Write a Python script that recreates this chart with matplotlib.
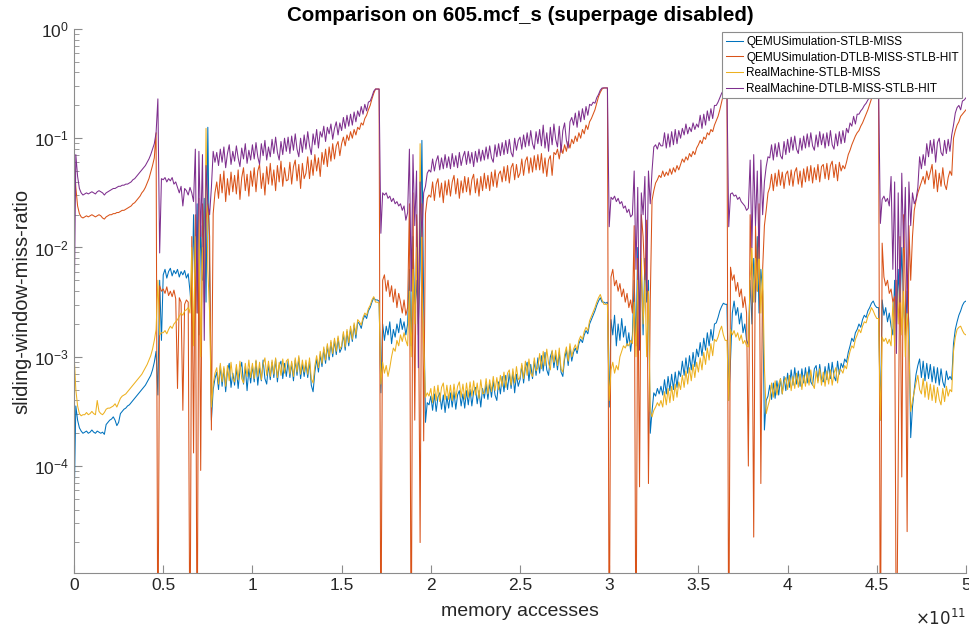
import numpy as np
import matplotlib
matplotlib.use('Agg')
import matplotlib.pyplot as plt
from matplotlib.ticker import FuncFormatter, LogLocator, NullFormatter

plt.rcParams['font.family'] = ['Liberation Sans', 'DejaVu Sans']

# eje x: accesos a memoria en unidades de 1e11, una muestra cada 0.01
x = np.arange(501) * 0.01

# valores, en log10 (una fila = 0.1e11 accesos)
qemu_stlb = [
    -4.40, -3.45, -3.58, -3.65, -3.68, -3.70, -3.69, -3.68, -3.70, -3.69,
    -3.67, -3.69, -3.70, -3.68, -3.69, -3.70, -3.69, -3.71, -3.62, -3.60,
    -3.58, -3.57, -3.55, -3.58, -3.63, -3.60, -3.52, -3.50, -3.48, -3.47,
    -3.45, -3.44, -3.42, -3.40, -3.38, -3.36, -3.34, -3.32, -3.30, -3.28,
    -3.26, -3.23, -3.20, -3.17, -3.12, -3.05, -2.95, -3.35, -2.30, -2.85,
    -2.25, -2.20, -2.28, -2.22, -2.19, -2.26, -2.21, -2.24, -2.20, -2.27,
    -2.22, -2.25, -2.21, -2.28, -2.24, -2.40, -2.60, -1.70, -2.50, -1.60,
    -2.80, -1.80, -2.30, -1.55, -2.50, -0.90, -2.20, -3.58, -3.30, -3.20,
    -3.14, -3.30, -3.08, -3.27, -3.11, -3.32, -3.13, -3.06, -3.28, -3.15,
    -3.26, -3.10, -3.29, -3.12, -3.05, -3.25, -3.09, -3.31, -3.11, -3.24,
    -3.08, -3.23, -3.04, -3.26, -3.10, -3.22, -3.03, -3.20, -3.25, -3.07,
    -3.21, -3.05, -3.19, -3.02, -3.23, -3.08, -3.04, -3.20, -3.06, -3.18,
    -3.04, -3.19, -3.06, -3.22, -3.03, -3.17, -3.01, -3.20, -3.07, -3.18,
    -3.06, -3.19, -3.04, -3.26, -3.32, -3.14, -3.02, -3.14, -2.98, -3.09,
    -2.93, -3.06, -2.90, -3.03, -2.87, -3.00, -2.85, -2.98, -2.83, -2.96,
    -2.92, -2.79, -2.94, -2.77, -2.90, -2.74, -2.86, -2.71, -2.83, -2.68,
    -2.70, -2.74, -2.66, -2.62, -2.65, -2.58, -2.55, -2.50, -2.46, -2.48,
    -2.48, -2.49, -3.33, -2.70, -2.85, -2.72, -2.80, -2.68, -2.88, -2.75,
    -2.82, -2.70, -2.78, -2.65, -2.75, -2.68, -2.80, -2.70, -2.20, -2.90,
    -1.90, -2.60, -2.30, -2.70, -2.20, -1.02, -2.50, -3.60, -3.42, -3.44,
    -3.36, -3.49, -3.34, -3.50, -3.37, -3.33, -3.48, -3.35, -3.51, -3.36,
    -3.47, -3.33, -3.46, -3.32, -3.48, -3.35, -3.31, -3.45, -3.34, -3.47,
    -3.31, -3.44, -3.30, -3.45, -3.32, -3.28, -3.43, -3.31, -3.46, -3.29,
    -3.38, -3.25, -3.39, -3.24, -3.37, -3.22, -3.35, -3.40, -3.23, -3.34,
    -3.18, -3.32, -3.17, -3.30, -3.15, -3.29, -3.14, -3.33, -3.16, -3.27,
    -3.21, -3.08, -3.24, -3.10, -3.05, -3.22, -3.07, -3.20, -3.04, -3.17,
    -3.01, -3.15, -2.99, -3.13, -2.96, -3.12, -3.17, -3.00, -2.95, -3.10,
    -2.98, -3.12, -2.96, -3.14, -3.18, -3.02, -2.94, -3.08, -2.91, -3.04,
    -2.96, -2.92, -2.97, -2.88, -2.84, -2.87, -2.80, -2.76, -2.79, -2.70,
    -2.66, -2.62, -2.58, -2.53, -2.49, -2.46, -2.50, -2.50, -2.51, -2.50,
    -3.46, -2.66, -2.80, -2.62, -2.90, -2.70, -2.85, -2.65, -2.82, -2.72,
    -2.90, -2.78, -2.95, -2.80, -2.30, -2.90, -2.00, -2.60, -2.20, -2.80,
    -2.10, -2.50, -2.30, -3.70, -3.50, -3.33, -3.36, -3.29, -3.34, -3.27,
    -3.35, -3.21, -3.34, -3.18, -3.31, -3.16, -3.30, -3.14, -3.28, -3.13,
    -3.18, -3.04, -3.17, -3.01, -3.15, -2.99, -3.12, -2.96, -3.09, -2.93,
    -3.00, -2.87, -2.99, -2.83, -2.94, -2.78, -2.90, -2.75, -2.85, -2.70,
    -2.69, -2.64, -2.58, -2.54, -2.51, -2.52, -2.52, -3.40, -3.03, -2.60,
    -2.49, -2.62, -2.55, -2.70, -2.60, -2.78, -2.70, -2.85, -2.89, -2.30,
    -2.70, -2.10, -2.50, -1.90, -2.60, -2.20, -2.40, -3.67, -3.40, -3.36,
    -3.26, -3.39, -3.24, -3.38, -3.22, -3.35, -3.20, -3.34, -3.18, -3.31,
    -3.15, -3.28, -3.12, -3.26, -3.10, -3.25, -3.13, -3.27, -3.11, -3.24,
    -3.10, -3.24, -3.09, -3.23, -3.26, -3.11, -3.08, -3.22, -3.07, -3.21,
    -3.23, -3.09, -3.21, -3.06, -3.20, -3.05, -3.18, -3.22, -3.04, -3.16,
    -3.06, -3.10, -3.02, -3.05, -2.96, -2.90, -2.83, -2.86, -2.78, -2.75,
    -2.70, -2.73, -2.66, -2.62, -2.64, -2.58, -2.55, -2.51, -2.49, -2.53,
    -2.55, -2.55, -3.58, -2.48, -2.62, -2.55, -2.68, -2.60, -2.72, -2.80,
    -2.30, -2.70, -2.20, -2.60, -2.00, -2.50, -2.80, -2.40, -2.70, -3.74,
    -3.46, -3.30, -3.16, -3.08, -3.02, -3.19, -3.04, -3.22, -3.06, -3.20,
    -3.07, -3.23, -3.09, -3.24, -3.10, -3.26, -3.11, -3.23, -3.28, -3.13,
    -3.21, -3.18, -3.21, -2.88, -2.75, -2.68, -2.62, -2.58, -2.53, -2.50,
    -2.49]

qemu_dtlb_stlb_hit = [
    -1.18, -1.45, -1.62, -1.69, -1.72, -1.73, -1.72, -1.71, -1.72, -1.71,
    -1.70, -1.71, -1.72, -1.71, -1.70, -1.71, -1.73, -1.74, -1.72, -1.71,
    -1.70, -1.70, -1.69, -1.69, -1.68, -1.68, -1.67, -1.66, -1.66, -1.65,
    -1.64, -1.63, -1.62, -1.60, -1.59, -1.57, -1.55, -1.53, -1.50, -1.48,
    -1.45, -1.41, -1.37, -1.31, -1.25, -1.18, -0.95, -6.00, -2.35, -2.40,
    -2.38, -2.42, -2.36, -2.44, -2.40, -2.45, -2.39, -2.47, -3.29, -2.46,
    -2.50, -3.49, -2.52, -2.48, -2.50, -6.00, -1.90, -3.88, -1.70, -6.00,
    -1.55, -4.04, -1.60, -2.20, -1.75, -1.60, -1.90, -3.67, -1.69, -1.50,
    -1.40, -1.55, -1.33, -1.50, -1.30, -1.58, -1.37, -1.52, -1.31, -1.49,
    -1.34, -1.51, -1.29, -1.56, -1.36, -1.27, -1.48, -1.33, -1.53, -1.30,
    -1.44, -1.27, -1.49, -1.30, -1.24, -1.46, -1.32, -1.52, -1.26, -1.42,
    -1.23, -1.43, -1.29, -1.48, -1.25, -1.40, -1.21, -1.44, -1.27, -1.39,
    -1.38, -1.22, -1.42, -1.26, -1.20, -1.39, -1.24, -1.46, -1.23, -1.37,
    -1.32, -1.17, -1.37, -1.20, -1.34, -1.15, -1.30, -1.18, -1.35, -1.13,
    -1.24, -1.10, -1.26, -1.08, -1.21, -1.05, -1.19, -1.07, -1.03, -1.16,
    -1.05, -0.99, -1.07, -0.97, -1.02, -0.94, -1.00, -0.92, -0.97, -0.90,
    -0.92, -0.86, -0.88, -0.82, -0.79, -0.74, -0.70, -0.64, -0.59, -0.55,
    -0.55, -0.55, -6.00, -2.30, -2.25, -2.40, -2.30, -2.45, -2.35, -2.50,
    -2.38, -2.55, -2.42, -2.50, -2.60, -2.48, -2.62, -2.55, -1.60, -6.00,
    -1.50, -3.58, -1.70, -2.30, -4.70, -1.60, -3.77, -1.69, -1.55, -1.52,
    -1.54, -1.40, -1.57, -1.42, -1.37, -1.54, -1.41, -1.59, -1.39, -1.52,
    -1.38, -1.53, -1.40, -1.34, -1.51, -1.37, -1.55, -1.39, -1.50, -1.35,
    -1.49, -1.36, -1.52, -1.38, -1.33, -1.50, -1.37, -1.53, -1.35, -1.48,
    -1.32, -1.46, -1.34, -1.48, -1.31, -1.44, -1.29, -1.45, -1.33, -1.30,
    -1.40, -1.26, -1.39, -1.25, -1.41, -1.27, -1.23, -1.38, -1.24, -1.36,
    -1.32, -1.19, -1.34, -1.21, -1.17, -1.32, -1.18, -1.31, -1.16, -1.29,
    -1.15, -1.29, -1.14, -1.32, -1.18, -1.35, -1.20, -1.16, -1.34, -1.13,
    -1.15, -1.10, -1.19, -1.08, -1.14, -1.06, -1.12, -1.03, -1.09, -1.01,
    -1.05, -0.98, -1.03, -0.95, -1.00, -0.92, -0.96, -0.88, -0.92, -0.85,
    -0.82, -0.78, -0.74, -0.68, -0.62, -0.58, -0.55, -0.54, -0.54, -0.54,
    -6.00, -2.27, -2.20, -2.35, -2.30, -2.40, -2.33, -2.45, -2.38, -2.50,
    -2.42, -2.55, -2.48, -2.60, -1.80, -6.00, -2.10, -4.19, -1.70, -1.90,
    -2.30, -1.75, -4.16, -2.50, -1.57, -1.48, -1.41, -1.38, -1.34, -1.36,
    -1.30, -1.35, -1.31, -1.34, -1.28, -1.33, -1.27, -1.31, -1.25, -1.29,
    -1.24, -1.19, -1.22, -1.17, -1.20, -1.14, -1.17, -1.12, -1.15, -1.09,
    -1.06, -1.02, -1.05, -0.99, -1.01, -0.95, -0.97, -0.92, -0.94, -0.88,
    -0.84, -0.80, -0.74, -0.67, -0.60, -0.55, -0.55, -6.00, -2.18, -2.30,
    -2.25, -2.40, -2.32, -2.45, -2.38, -2.55, -2.45, -2.60, -4.00, -1.70,
    -2.30, -4.65, -1.80, -2.40, -1.60, -4.16, -2.20, -1.80, -1.66, -1.50,
    -1.45, -1.33, -1.48, -1.32, -1.44, -1.29, -1.43, -1.31, -1.46, -1.33,
    -1.30, -1.43, -1.29, -1.44, -1.31, -1.27, -1.42, -1.30, -1.45, -1.28,
    -1.40, -1.26, -1.39, -1.25, -1.41, -1.27, -1.38, -1.24, -1.40, -1.26,
    -1.24, -1.37, -1.23, -1.38, -1.25, -1.21, -1.36, -1.24, -1.39, -1.22,
    -1.30, -1.25, -1.28, -1.22, -1.15, -1.11, -1.06, -1.02, -0.98, -0.95,
    -0.93, -0.89, -0.86, -0.82, -0.78, -0.74, -0.69, -0.64, -0.59, -0.55,
    -0.55, -0.55, -6.00, -1.96, -2.27, -2.35, -2.30, -2.42, -2.38, -2.50,
    -2.45, -6.00, -4.00, -1.90, -4.10, -1.70, -2.40, -4.60, -1.80, -2.30,
    -1.90, -1.66, -1.57, -1.50, -1.45, -1.40, -1.35, -1.42, -1.30, -1.38,
    -1.31, -1.24, -1.46, -1.29, -1.49, -1.32, -1.44, -1.27, -1.42, -1.47,
    -1.36, -1.30, -1.34, -1.00, -0.93, -0.88, -0.85, -0.80, -0.78, -0.76,
    -0.74]

real_stlb = [
    -2.97, -3.30, -3.45, -3.52, -3.54, -3.53, -3.53, -3.51, -3.53, -3.52,
    -3.50, -3.52, -3.53, -3.40, -3.50, -3.52, -3.53, -3.51, -3.48, -3.47,
    -3.47, -3.46, -3.45, -3.43, -3.46, -3.42, -3.38, -3.36, -3.35, -3.34,
    -3.32, -3.30, -3.28, -3.26, -3.24, -3.22, -3.20, -3.18, -3.16, -3.13,
    -3.10, -3.07, -3.03, -2.99, -2.93, -2.85, -2.75, -2.30, -2.80, -2.78,
    -2.78, -2.76, -2.79, -2.75, -2.72, -2.74, -2.70, -2.68, -2.66, -2.63,
    -2.60, -2.62, -2.58, -2.57, -2.55, -2.60, -2.00, -2.90, -1.90, -2.60,
    -1.75, -3.00, -2.00, -2.50, -0.91, -2.20, -2.60, -3.46, -3.25, -3.15,
    -3.10, -3.25, -3.06, -3.23, -3.09, -3.27, -3.08, -3.22, -3.05, -3.20,
    -3.23, -3.07, -3.21, -3.04, -3.20, -3.24, -3.06, -3.18, -3.03, -3.19,
    -3.06, -3.20, -3.03, -3.18, -3.05, -3.21, -3.07, -3.01, -3.17, -3.04,
    -3.18, -3.03, -3.16, -3.01, -3.19, -3.05, -3.17, -3.02, -3.15, -3.04,
    -3.02, -3.16, -3.04, -3.18, -3.01, -3.14, -2.99, -3.16, -3.03, -3.14,
    -3.03, -3.16, -3.01, -3.20, -3.24, -3.08, -2.99, -3.10, -2.95, -3.06,
    -2.91, -3.03, -2.88, -3.00, -2.85, -2.97, -2.83, -2.95, -2.81, -2.93,
    -2.90, -2.77, -2.91, -2.75, -2.87, -2.72, -2.84, -2.69, -2.80, -2.66,
    -2.68, -2.71, -2.64, -2.60, -2.62, -2.56, -2.53, -2.48, -2.45, -2.50,
    -2.50, -2.51, -3.25, -3.05, -3.15, -3.08, -3.18, -3.10, -3.00, -2.92,
    -2.95, -2.85, -2.90, -2.80, -2.86, -2.78, -2.85, -2.90, -2.40, -3.00,
    -2.20, -2.70, -2.00, -2.80, -1.05, -2.40, -2.90, -3.37, -3.33, -3.36,
    -3.29, -3.42, -3.27, -3.40, -3.26, -3.41, -3.28, -3.24, -3.39, -3.26,
    -3.39, -3.26, -3.40, -3.25, -3.38, -3.27, -3.23, -3.37, -3.25, -3.39,
    -3.24, -3.37, -3.23, -3.36, -3.22, -3.35, -3.24, -3.38, -3.21, -3.34,
    -3.33, -3.20, -3.34, -3.21, -3.32, -3.18, -3.31, -3.19, -3.30, -3.17,
    -3.27, -3.14, -3.28, -3.15, -3.12, -3.26, -3.11, -3.24, -3.09, -3.21,
    -3.19, -3.06, -3.20, -3.04, -3.17, -3.02, -3.15, -3.18, -3.01, -3.13,
    -3.10, -2.97, -3.11, -2.95, -3.08, -2.93, -3.06, -3.12, -2.94, -3.05,
    -2.94, -3.08, -2.92, -3.11, -3.14, -2.98, -2.91, -3.04, -2.88, -3.00,
    -2.93, -2.89, -2.94, -2.85, -2.81, -2.84, -2.77, -2.73, -2.76, -2.67,
    -2.63, -2.59, -2.55, -2.50, -2.46, -2.43, -2.48, -2.52, -2.52, -2.52,
    -3.40, -3.12, -3.05, -3.15, -3.08, -3.12, -3.00, -2.95, -2.90, -2.92,
    -2.88, -2.90, -2.85, -2.88, -2.50, -3.00, -2.30, -2.80, -2.10, -2.70,
    -2.30, -3.00, -2.40, -3.50, -3.55, -3.49, -3.46, -3.42, -3.45, -3.40,
    -3.46, -3.32, -3.44, -3.29, -3.42, -3.27, -3.40, -3.25, -3.37, -3.23,
    -3.30, -3.17, -3.28, -3.13, -3.25, -3.10, -3.22, -3.07, -3.19, -3.05,
    -3.14, -3.01, -3.12, -2.96, -3.07, -2.92, -3.03, -2.88, -2.99, -2.84,
    -2.86, -2.82, -2.76, -2.72, -2.80, -2.85, -2.85, -3.40, -2.75, -2.80,
    -2.76, -2.82, -2.78, -2.85, -2.80, -2.88, -2.85, -2.90, -2.91, -2.30,
    -2.00, -2.50, -2.10, -2.40, -2.00, -2.60, -2.20, -3.10, -3.52, -3.45,
    -3.39, -3.24, -3.37, -3.22, -3.35, -3.25, -3.20, -3.34, -3.23, -3.19,
    -3.30, -3.17, -3.31, -3.18, -3.29, -3.15, -3.28, -3.16, -3.30, -3.17,
    -3.27, -3.14, -3.26, -3.12, -3.25, -3.29, -3.13, -3.24, -3.11, -3.26,
    -3.14, -3.27, -3.13, -3.25, -3.12, -3.26, -3.15, -3.10, -3.24, -3.12,
    -3.12, -3.15, -3.08, -3.11, -3.02, -2.95, -2.90, -2.92, -2.84, -2.80,
    -2.75, -2.78, -2.72, -2.68, -2.69, -2.63, -2.60, -2.55, -2.58, -2.62,
    -2.65, -2.65, -3.58, -2.82, -2.86, -2.83, -2.88, -2.84, -2.90, -2.50,
    -2.90, -2.30, -2.70, -2.20, -2.80, -2.40, -3.00, -2.60, -2.90, -3.50,
    -3.40, -3.32, -3.24, -3.17, -3.30, -3.34, -3.20, -3.37, -3.23, -3.39,
    -3.25, -3.40, -3.26, -3.42, -3.28, -3.39, -3.44, -3.29, -3.41, -3.27,
    -3.36, -3.30, -3.32, -2.95, -2.82, -2.75, -2.73, -2.72, -2.76, -2.79,
    -2.80]

real_dtlb_stlb_hit = [
    -2.70, -1.15, -1.35, -1.46, -1.50, -1.52, -1.51, -1.50, -1.51, -1.50,
    -1.49, -1.50, -1.51, -1.49, -1.48, -1.49, -1.50, -1.52, -1.50, -1.49,
    -1.48, -1.47, -1.46, -1.46, -1.45, -1.44, -1.44, -1.43, -1.43, -1.42,
    -1.42, -1.41, -1.40, -1.38, -1.37, -1.35, -1.33, -1.31, -1.29, -1.27,
    -1.25, -1.22, -1.19, -1.15, -1.10, -1.05, -0.95, -0.64, -2.05, -1.37,
    -1.38, -1.36, -1.40, -1.37, -1.39, -1.36, -1.42, -1.40, -1.45, -1.50,
    -1.44, -1.62, -1.46, -1.48, -1.52, -1.45, -1.50, -1.58, -1.10, -2.60,
    -1.12, -1.90, -1.15, -2.85, -1.25, -1.60, -1.70, -1.45, -1.12, -1.22,
    -1.13, -1.25, -1.10, -1.22, -1.08, -1.27, -1.14, -1.06, -1.24, -1.12,
    -1.21, -1.07, -1.18, -1.26, -1.09, -1.19, -1.05, -1.23, -1.11, -1.20,
    -1.06, -1.19, -1.04, -1.17, -1.24, -1.05, -1.16, -1.02, -1.20, -1.08,
    -1.17, -1.01, -1.14, -0.99, -1.13, -1.20, -1.03, -1.15, -1.00, -1.12,
    -0.99, -1.14, -0.98, -1.11, -0.96, -1.10, -1.17, -1.00, -1.13, -0.97,
    -1.10, -0.94, -1.07, -1.15, -0.96, -1.06, -0.92, -1.09, -0.94, -0.99,
    -0.89, -1.03, -0.90, -0.96, -0.87, -1.01, -0.91, -0.85, -0.97, -0.86,
    -0.93, -0.81, -0.91, -0.79, -0.89, -0.78, -0.88, -0.76, -0.85, -0.75,
    -0.80, -0.71, -0.78, -0.69, -0.75, -0.67, -0.66, -0.62, -0.57, -0.55,
    -0.55, -0.55, -1.87, -1.50, -1.52, -1.50, -1.55, -1.53, -1.58, -1.55,
    -1.60, -1.58, -1.62, -1.60, -1.66, -1.62, -1.75, -1.68, -1.10, -2.40,
    -1.15, -1.80, -1.30, -3.10, -1.40, -1.90, -1.50, -1.44, -1.32, -1.29,
    -1.31, -1.19, -1.30, -1.21, -1.16, -1.29, -1.18, -1.28, -1.15, -1.27,
    -1.17, -1.28, -1.14, -1.26, -1.16, -1.27, -1.13, -1.25, -1.17, -1.12,
    -1.24, -1.12, -1.23, -1.13, -1.26, -1.12, -1.22, -1.10, -1.21, -1.11,
    -1.20, -1.08, -1.19, -1.07, -1.18, -1.22, -1.06, -1.17, -1.05, -1.16,
    -1.04, -1.15, -1.02, -1.14, -1.01, -1.13, -1.17, -1.00, -1.11, -1.02,
    -0.99, -1.10, -0.97, -1.08, -0.95, -1.07, -0.93, -1.05, -1.10, -0.94,
    -1.05, -0.92, -1.07, -0.88, -1.09, -0.95, -1.12, -0.90, -1.06, -0.87,
    -1.01, -1.08, -0.89, -1.13, -0.93, -0.86, -1.02, -1.09, -0.85, -0.81,
    -0.88, -0.77, -0.90, -0.75, -0.85, -0.73, -0.83, -0.71, -0.79, -0.69,
    -0.70, -0.67, -0.68, -0.63, -0.60, -0.56, -0.54, -0.54, -0.54, -0.54,
    -1.81, -1.54, -1.56, -1.53, -1.58, -1.55, -1.60, -1.58, -1.64, -1.62,
    -1.68, -1.65, -1.72, -1.70, -1.30, -2.20, -1.45, -2.94, -1.50, -1.70,
    -1.35, -2.40, -1.30, -1.60, -1.30, -1.08, -1.06, -1.10, -1.04, -1.07,
    -1.07, -0.95, -1.09, -0.96, -1.08, -0.94, -1.06, -0.92, -1.05, -0.93,
    -1.00, -0.91, -0.97, -0.87, -0.96, -0.90, -0.94, -0.86, -0.92, -0.87,
    -0.90, -0.79, -0.91, -0.78, -0.88, -0.75, -0.84, -0.73, -0.82, -0.70,
    -0.70, -0.67, -0.63, -0.59, -0.56, -0.55, -0.55, -1.81, -1.51, -1.50,
    -1.53, -1.52, -1.56, -1.54, -1.58, -1.60, -1.62, -1.66, -1.64, -1.20,
    -2.00, -1.15, -1.80, -1.30, -2.10, -1.20, -1.70, -1.40, -1.26, -1.17,
    -1.18, -1.06, -1.20, -1.05, -1.17, -1.04, -1.16, -1.19, -1.03, -1.15,
    -1.01, -1.13, -0.99, -1.11, -0.98, -1.10, -1.14, -1.00, -1.11, -0.98,
    -1.09, -0.96, -1.08, -0.95, -1.07, -1.11, -0.97, -1.08, -0.94, -1.06,
    -0.96, -1.09, -0.95, -1.07, -0.93, -1.06, -1.10, -0.96, -1.07, -0.94,
    -1.05, -0.93, -1.04, -0.91, -0.95, -0.86, -0.89, -0.80, -0.87, -0.78,
    -0.78, -0.75, -0.73, -0.70, -0.68, -0.65, -0.62, -0.58, -0.56, -0.55,
    -0.55, -0.55, -1.78, -1.56, -1.53, -1.58, -1.55, -1.62, -1.35, -2.20,
    -1.40, -2.97, -1.50, -2.50, -1.32, -2.00, -1.45, -2.60, -1.40, -1.80,
    -1.50, -1.60, -1.56, -1.45, -1.17, -1.28, -1.15, -1.25, -1.05, -1.17,
    -1.02, -1.14, -1.01, -1.22, -1.04, -1.00, -1.13, -1.16, -1.02, -1.14,
    -1.01, -1.12, -0.97, -0.88, -0.77, -0.72, -0.70, -0.74, -0.66, -0.65,
    -0.63]

labels = ['QEMUSimulation-STLB-MISS', 'QEMUSimulation-DTLB-MISS-STLB-HIT',
          'RealMachine-STLB-MISS', 'RealMachine-DTLB-MISS-STLB-HIT']
colores = ['#0072BD', '#D95319', '#EDB120', '#7E2F8E']

series = [qemu_stlb, qemu_dtlb_stlb_hit, real_stlb, real_dtlb_stlb_hit]
for s in series:
    assert len(s) == len(x), len(s)

fig = plt.figure(figsize=(9.69, 6.29), dpi=100)
ax = fig.add_axes([0.0764, 0.089, 0.9205, 0.865])

for s, lab, c in zip(series, labels, colores):
    ax.plot(x, 10.0 ** np.array(s), color=c, lw=0.75, label=lab)

ax.set_yscale('log')
ax.set_xlim(0, 5)
ax.set_ylim(1.05e-5, 1)
ax.set_xticks(np.arange(0, 5.01, 0.5))
ax.xaxis.set_major_formatter(FuncFormatter(lambda v, p: '%g' % v))
ax.yaxis.set_major_locator(LogLocator(base=10, numticks=10))
ax.yaxis.set_minor_locator(LogLocator(base=10, subs=np.arange(2, 10), numticks=20))
ax.yaxis.set_minor_formatter(NullFormatter())

# estilo tipo matlab
for lado in ['top', 'right']:
    ax.spines[lado].set_visible(False)
for lado in ['left', 'bottom']:
    ax.spines[lado].set_color('#8c8c8c')
    ax.spines[lado].set_linewidth(0.8)
ax.tick_params(which='both', direction='in', colors='#8c8c8c', labelcolor='#262626',
               labelsize=12.5)
ax.tick_params(which='major', length=6)
ax.tick_params(which='minor', length=3.5)

ax.set_xlabel('memory accesses', fontsize=14, color='#262626', labelpad=7)
ax.set_ylabel('sliding-window-miss-ratio', fontsize=14.5, color='#262626', labelpad=2)
ax.set_title('Comparison on 605.mcf_s (superpage disabled)', fontsize=14.8,
             fontweight='bold', pad=6)
ax.text(1.0, -0.082, r'$\times10^{11}$', transform=ax.transAxes, ha='right',
        va='center', fontsize=12, color='#262626')

leg = ax.legend(loc='upper right', fontsize=8.5, handlelength=1.5,
                handletextpad=0.25, labelspacing=0.3, borderpad=0.3,
                borderaxespad=0.3, fancybox=False, framealpha=1)
leg.get_frame().set_edgecolor('#8c8c8c')
leg.get_frame().set_linewidth(0.8)

fig.savefig('out.png', dpi=100)
